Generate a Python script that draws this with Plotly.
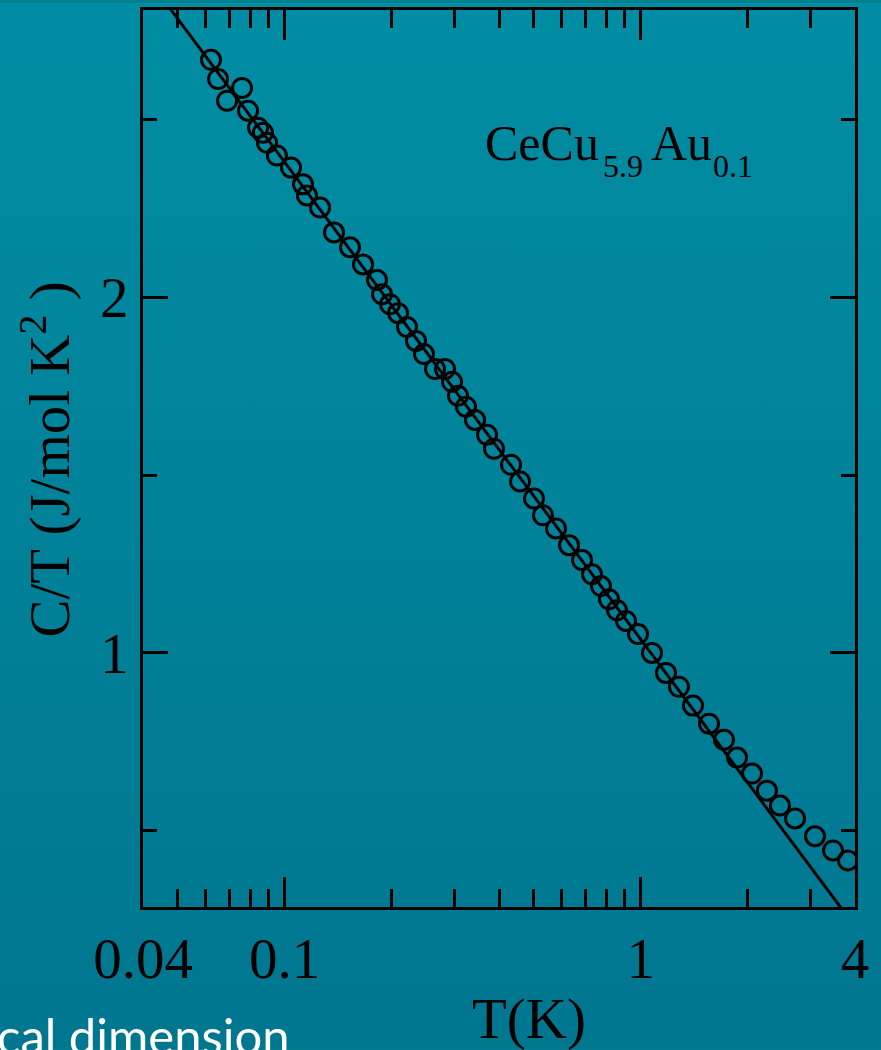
import base64
import plotly.graph_objects as go

# Specific heat of CeCu5.9Au0.1 plotted as C/T versus log T
temperature_K = [
    0.0621, 0.0650, 0.0689, 0.0759, 0.0789, 0.0842, 0.0869, 0.0892, 0.0951, 0.1042,
    0.1126, 0.1155, 0.1257, 0.1376, 0.1526, 0.1660, 0.1817, 0.1877, 0.1976, 0.2082,
    0.2206, 0.2338, 0.2462, 0.2644, 0.2821, 0.2952, 0.3068, 0.3231, 0.3425, 0.3702,
    0.3873, 0.4324, 0.4584, 0.5016, 0.5316, 0.5784, 0.6292, 0.6844, 0.7300, 0.7736,
    0.8148, 0.8580, 0.9096, 0.9830, 1.076, 1.178, 1.281, 1.403, 1.556, 1.714,
    1.865, 2.055, 2.263, 2.462, 2.714, 3.088, 3.470, 3.822,
]
c_over_t = [
    2.667, 2.613, 2.552, 2.588, 2.524, 2.476, 2.462, 2.434, 2.398, 2.364,
    2.317, 2.286, 2.252, 2.182, 2.140, 2.092, 2.048, 2.008, 1.980, 1.955,
    1.916, 1.877, 1.840, 1.798, 1.798, 1.762, 1.723, 1.692, 1.655, 1.613,
    1.574, 1.529, 1.482, 1.434, 1.387, 1.350, 1.303, 1.261, 1.221, 1.188,
    1.151, 1.120, 1.090, 1.053, 1.000, 0.944, 0.905, 0.852, 0.801, 0.756,
    0.706, 0.661, 0.613, 0.571, 0.535, 0.485, 0.445, 0.417,
]

# Logarithmic fit, drawn as a straight segment on the log-T axis
fit_T = [0.04, 4.0]
fit_c_over_t = [2.913, 0.231]

x_major_ticks = [0.04, 0.1, 1, 4]
x_major_labels = ["0.04", "0.1", "1", "4"]
x_minor_ticks = [0.05, 0.06, 0.07, 0.08, 0.09, 0.2, 0.3, 0.4, 0.5, 0.6, 0.7, 0.8, 0.9, 2, 3]
y_major_ticks = [1, 2]
y_minor_ticks = [0.5, 1.5, 2.5]

W, H = 881, 1050
L, R, T, B = 143, 26, 7, 143
pw, ph = W - L - R, H - T - B

serif = "Liberation Serif, Times New Roman, serif"


def px(xp):
    return (xp - L) / pw


def py(yp):
    return (H - B - yp) / ph


# Slide background: vertical teal gradient
svg = f"""<svg xmlns='http://www.w3.org/2000/svg' width='{W}' height='{H}'>
<defs><linearGradient id='g' x1='0' y1='0' x2='0' y2='1'>
<stop offset='0' stop-color='#008da3'/><stop offset='1' stop-color='#00768f'/>
</linearGradient></defs><rect width='{W}' height='{H}' fill='url(#g)'/></svg>"""
bg_uri = "data:image/svg+xml;base64," + base64.b64encode(svg.encode()).decode()

fig = go.Figure()
fig.add_trace(go.Scatter(
    x=fit_T, y=fit_c_over_t, mode="lines",
    line=dict(color="black", width=3), hoverinfo="skip", showlegend=False,
))
fig.add_trace(go.Scatter(
    x=temperature_K, y=c_over_t, mode="markers",
    marker=dict(symbol="circle-open", size=19, color="black", line=dict(width=3, color="black")),
    showlegend=False,
))


def label(text, xp, yp, size, xanchor="left", yanchor="middle", **kw):
    return dict(text=text, xref="paper", yref="paper", x=px(xp), y=py(yp),
                xanchor=xanchor, yanchor=yanchor, showarrow=False,
                font=dict(family=kw.pop("family", serif), size=size,
                          color=kw.pop("color", "black")), **kw)


annotations = [
    # compound name with lowered subscripts
    label("CeCu", 483, 140, 50),
    label("5.9", 601, 164, 32),
    label("Au", 649, 140, 50),
    label("0.1", 711, 164, 32),
    # axis titles
    label("T(K)", 529, 1019, 57, xanchor="center"),
    label("C/T (J/mol K<sup>2</sup> )", 46, 458, 57, xanchor="center", textangle=-90),
    # slide body text running off the lower edge
    label("cal dimension", -5, 1035, 49, family="Lato, Carlito, sans-serif", color="white"),
]

fig.update_layout(
    width=W, height=H,
    margin=dict(l=L, r=R, t=T, b=B, pad=0),
    paper_bgcolor="#00818f",
    plot_bgcolor="rgba(0,0,0,0)",
    font=dict(family=serif, color="black", size=57),
    images=[dict(
        source=bg_uri, xref="paper", yref="paper",
        x=-L / pw, y=1 + T / ph, sizex=W / pw, sizey=H / ph,
        xanchor="left", yanchor="top", sizing="stretch", layer="below",
    )],
    xaxis=dict(
        type="log", range=[-1.39794, 0.60206],
        showgrid=False, zeroline=False,
        showline=True, linecolor="black", linewidth=3, mirror="ticks",
        ticks="inside", ticklen=30, tickwidth=3, tickcolor="black",
        tickmode="array", tickvals=x_major_ticks, ticktext=x_major_labels,
        tickfont=dict(family=serif, size=57),
        minor=dict(tickmode="array", tickvals=x_minor_ticks, ticks="inside",
                   ticklen=18, tickwidth=3, tickcolor="black", showgrid=False),
    ),
    yaxis=dict(
        range=[0.286, 2.807],
        showgrid=False, zeroline=False,
        showline=True, linecolor="black", linewidth=3, mirror="ticks",
        ticks="inside", ticklen=25, tickwidth=3, tickcolor="black",
        tickmode="array", tickvals=y_major_ticks, ticktext=["1", "2"],
        tickfont=dict(family=serif, size=57),
        minor=dict(tickmode="array", tickvals=y_minor_ticks, ticks="inside",
                   ticklen=14, tickwidth=3, tickcolor="black", showgrid=False),
    ),
    annotations=annotations,
)

fig.write_html("out.html")
